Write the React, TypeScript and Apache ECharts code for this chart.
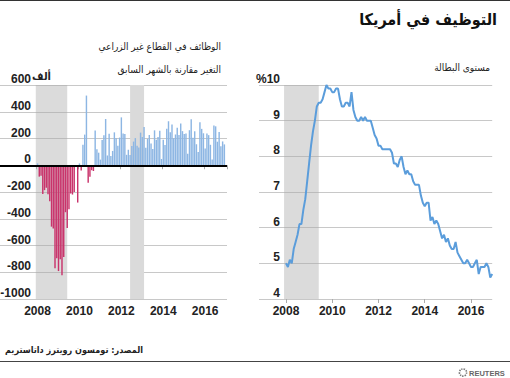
import React, { useEffect, useRef } from 'react';
import * as echarts from 'echarts';

// ---------- DATA ----------
// Monthly change in non-farm payrolls (thousands), Jan 2008 – Dec 2016
const payrolls2008 = [14, -85, -79, -215, -186, -169, -216, -270, -459, -473, -770, -695];
const payrolls2009 = [-791, -703, -823, -686, -351, -470, -329, -212, -219, -200, -7, -279];
const payrolls2010 = [14, -39, 154, 229, 521, -130, -86, -37, -43, 260, 120, 94];
const payrolls2011 = [42, 188, 225, 346, 73, 235, 70, 107, 246, 202, 146, 207];
const payrolls2012 = [358, 237, 233, 78, 115, 76, 143, 177, 203, 146, 132, 244];
const payrolls2013 = [211, 286, 130, 197, 226, 162, 122, 261, 190, 212, 258, 47];
const payrolls2014 = [190, 151, 272, 329, 246, 304, 202, 230, 280, 227, 312, 255];
const payrolls2015 = [234, 238, 86, 262, 344, 206, 254, 157, 100, 321, 272, 239];
const payrolls2016 = [126, 237, 225, 153, 43, 297, 291, 176, 249, 142, 178, 156];

// Unemployment rate (%), Jan 2008 – Dec 2016
const unemployment2008 = [5.0, 4.9, 5.1, 5.0, 5.4, 5.6, 5.8, 6.1, 6.1, 6.5, 6.8, 7.3];
const unemployment2009 = [7.8, 8.3, 8.7, 9.0, 9.4, 9.5, 9.5, 9.6, 9.8, 10.0, 9.9, 9.9];
const unemployment2010 = [9.8, 9.8, 9.9, 9.9, 9.6, 9.4, 9.4, 9.5, 9.5, 9.4, 9.8, 9.3];
const unemployment2011 = [9.1, 9.0, 9.0, 9.1, 9.0, 9.1, 9.0, 9.0, 9.0, 8.8, 8.6, 8.5];
const unemployment2012 = [8.3, 8.3, 8.2, 8.2, 8.2, 8.2, 8.2, 8.1, 7.8, 7.8, 7.7, 7.9];
const unemployment2013 = [8.0, 7.7, 7.5, 7.6, 7.5, 7.5, 7.3, 7.2, 7.2, 7.2, 6.9, 6.7];
const unemployment2014 = [6.6, 6.7, 6.7, 6.2, 6.3, 6.1, 6.2, 6.1, 5.9, 5.7, 5.8, 5.6];
const unemployment2015 = [5.7, 5.5, 5.4, 5.4, 5.6, 5.3, 5.2, 5.1, 5.0, 5.0, 5.1, 5.0];
const unemployment2016 = [4.9, 4.9, 5.0, 5.1, 4.7, 4.9, 4.9, 4.9, 5.0, 4.9, 4.6, 4.7];

const dataStart = '2008-01';
const yearTickLabels = ['2008', '2010', '2012', '2014', '2016'];
const recessionBand = ['2007-12', '2009-06'];
const coveredBand = ['2012-06', '2013-02'];

const leftYTicks = { min: -1000, max: 600, interval: 200 };
const rightYTicks = { min: 4, max: 10, interval: 1 };

const titleText = 'التوظيف في أمريكا';
const leftTitle1 = 'الوظائف في القطاع غير الزراعي';
const leftTitle2 = 'التغير مقارنة بالشهر السابق';
const leftUnit = 'ألف';
const rightTitle = 'مستوى البطالة';
const sourceText = 'المصدر: تومسون رويترز داتاستريم';

// ---------- HELPERS ----------
function monthRange(startYear: number, startMonth: number, count: number): string[] {
  const out: string[] = [];
  let y = startYear;
  let m = startMonth;
  for (let i = 0; i < count; i++) {
    out.push(`${y}-${String(m).padStart(2, '0')}`);
    m++;
    if (m > 12) { m = 1; y++; }
  }
  return out;
}

const payrolls = [
  ...payrolls2008, ...payrolls2009, ...payrolls2010, ...payrolls2011, ...payrolls2012,
  ...payrolls2013, ...payrolls2014, ...payrolls2015, ...payrolls2016,
];
const unemployment = [
  ...unemployment2008, ...unemployment2009, ...unemployment2010, ...unemployment2011,
  ...unemployment2012, ...unemployment2013, ...unemployment2014, ...unemployment2015,
  ...unemployment2016,
];

const leftCats = monthRange(2006, 4, 130);
const rightCats = monthRange(2006, 11, 122);

function alignTo(cats: string[], values: number[]) {
  const start = cats.indexOf(dataStart);
  return cats.map((_, i) => {
    const k = i - start;
    return k >= 0 && k < values.length ? values[k] : null;
  });
}

const isYearTick = (_i: number, v: string) =>
  typeof v === 'string' && v.endsWith('-01') && yearTickLabels.includes(v.slice(0, 4));

const NUM_FONT = 'Liberation Sans, Arial, sans-serif';
const AR_FONT = 'DejaVu Sans Condensed, DejaVu Sans, sans-serif';
const GRID_COLOR = '#c8c8c8';
const BAND_COLOR = '#dadada';

export default function App() {
  const ref = useRef<HTMLDivElement>(null);

  useEffect(() => {
    document.body.style.margin = '0';
    if (!ref.current) return;
    const chart = echarts.init(ref.current, null, { renderer: 'svg' });

    const leftData = alignTo(leftCats, payrolls);
    const rightData = alignTo(rightCats, unemployment);

    const xAxisCommon = {
      type: 'category',
      axisLine: { show: false },
      axisTick: { show: true, interval: isYearTick, length: 4, lineStyle: { color: '#aaaaaa' } },
      axisLabel: {
        interval: isYearTick,
        formatter: (v: string) => v.slice(0, 4),
        fontFamily: NUM_FONT,
        fontWeight: 'bold',
        fontSize: 12,
        color: '#222',
        margin: 6,
      },
      splitLine: { show: false },
    };

    const yAxisCommon = {
      type: 'value',
      axisLine: { show: false },
      axisTick: { show: false },
      splitLine: { show: true, lineStyle: { color: GRID_COLOR, width: 1 } },
    };

    const hiddenLine = {
      type: 'line',
      xAxisIndex: 0,
      yAxisIndex: 0,
      data: leftData,
      symbol: 'none',
      silent: true,
      lineStyle: { opacity: 0 },
    };

    const option: any = {
      animation: false,
      grid: [
        { left: 0, top: 85, width: 227, height: 214, containLabel: false, outerBoundsMode: 'none' },
        { left: 259, top: 85, width: 233.2, height: 214, containLabel: false, outerBoundsMode: 'none' },
      ],
      xAxis: [
        { ...xAxisCommon, gridIndex: 0, data: leftCats, boundaryGap: true },
        { ...xAxisCommon, gridIndex: 1, data: rightCats, boundaryGap: false },
      ],
      yAxis: [
        {
          ...yAxisCommon,
          gridIndex: 0,
          ...leftYTicks,
          axisLabel: {
            inside: true, margin: 31, align: 'right', verticalAlign: 'bottom',
            fontFamily: NUM_FONT, fontWeight: 'bold', fontSize: 12, color: '#222',
            formatter: (v: number) => String(v),
          },
        },
        {
          ...yAxisCommon,
          gridIndex: 1,
          ...rightYTicks,
          axisLabel: {
            inside: true, margin: 21, align: 'right', verticalAlign: 'bottom',
            fontFamily: NUM_FONT, fontWeight: 'bold', fontSize: 12, color: '#222',
            formatter: (v: number) => (v === rightYTicks.max ? '%' + v : String(v)),
          },
        },
      ],
      series: [
        {
          ...hiddenLine,
          z: 1,
          markArea: {
            silent: true,
            itemStyle: { color: 'rgba(170,170,170,0.42)' },
            data: [[{ xAxis: recessionBand[0] }, { xAxis: recessionBand[1] }]],
          },
        },
        {
          type: 'bar',
          xAxisIndex: 0,
          yAxisIndex: 0,
          data: leftData,
          z: 2,
          barCategoryGap: '18%',
          itemStyle: {
            color: (p: any) => (p.value < 0 ? '#c9336b' : '#8db6e3'),
          },
          markLine: {
            silent: true,
            symbol: 'none',
            label: { show: false },
            lineStyle: { color: '#000', width: 2, type: 'solid' },
            data: [{ yAxis: 0 }],
          },
        },
        {
          ...hiddenLine,
          z: 10,
          markArea: {
            silent: true,
            itemStyle: { color: BAND_COLOR },
            data: [[{ xAxis: coveredBand[0] }, { xAxis: coveredBand[1] }]],
          },
        },
        {
          type: 'line',
          xAxisIndex: 1,
          yAxisIndex: 1,
          data: rightData,
          symbol: 'none',
          lineStyle: { color: '#5b9ddb', width: 2 },
          markArea: {
            silent: true,
            itemStyle: { color: 'rgba(170,170,170,0.42)' },
            data: [[{ xAxis: recessionBand[0] }, { xAxis: recessionBand[1] }]],
          },
        },
      ],
      graphic: [
        { type: 'rect', shape: { x: 0, y: 0, width: 510, height: 1 }, style: { fill: '#333' } },
        {
          type: 'text', x: 497, y: 19,
          style: { text: titleText, fill: '#111', fontFamily: AR_FONT, fontWeight: 'bold', fontSize: 16, align: 'right', verticalAlign: 'middle' },
        },
        {
          type: 'text', x: 221, y: 46,
          style: { text: leftTitle1, fill: '#222', fontFamily: AR_FONT, fontSize: 10, align: 'right', verticalAlign: 'middle' },
        },
        {
          type: 'text', x: 221, y: 69,
          style: { text: leftTitle2, fill: '#222', fontFamily: AR_FONT, fontSize: 10, align: 'right', verticalAlign: 'middle' },
        },
        {
          type: 'text', x: 51, y: 76,
          style: { text: leftUnit, fill: '#222', fontFamily: AR_FONT, fontWeight: 'bold', fontSize: 11, align: 'right', verticalAlign: 'middle' },
        },
        {
          type: 'text', x: 490, y: 67,
          style: { text: rightTitle, fill: '#222', fontFamily: AR_FONT, fontSize: 10, align: 'right', verticalAlign: 'middle' },
        },
        {
          type: 'text', x: 5, y: 350,
          style: { text: sourceText, fill: '#222', fontFamily: AR_FONT, fontWeight: 'bold', fontSize: 9, align: 'left', verticalAlign: 'middle' },
        },
        { type: 'rect', shape: { x: 0, y: 361, width: 510, height: 1 }, style: { fill: '#444' } },
        {
          type: 'circle', shape: { cx: 463, cy: 372.5, r: 3.6 },
          style: { fill: 'none', stroke: '#777', lineWidth: 1.6, lineDash: [1.4, 1] },
        },
        {
          type: 'text', x: 469, y: 373,
          style: { text: 'REUTERS', fill: '#666', fontFamily: NUM_FONT, fontWeight: 'bold', fontSize: 7.5, align: 'left', verticalAlign: 'middle' },
        },
      ],
    };

    chart.setOption(option);
    return () => chart.dispose();
  }, []);

  return <div ref={ref} style={{ width: 510, height: 378 }} />;
}
